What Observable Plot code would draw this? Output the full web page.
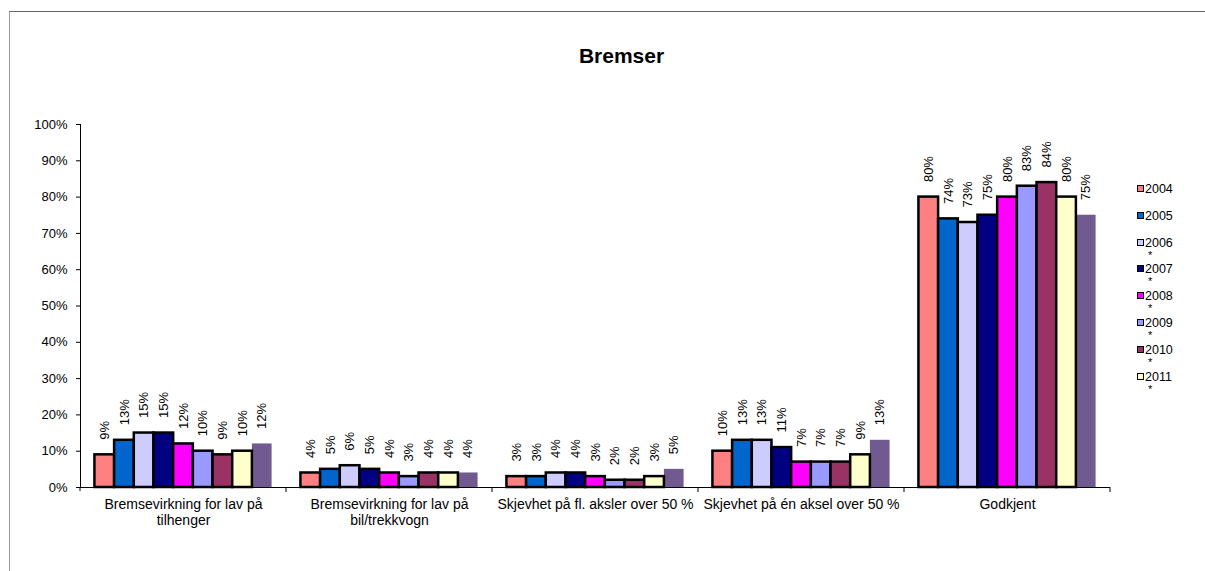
<!DOCTYPE html>
<html>
<head>
<meta charset="utf-8">
<script src="https://cdn.jsdelivr.net/npm/d3@7"></script>
<script src="https://cdn.jsdelivr.net/npm/@observablehq/plot@0.6"></script>
<style>
  html, body { margin: 0; padding: 0; background: #fff; }
  #chart { position: relative; width: 1205px; height: 571px; overflow: hidden; font-family: "Liberation Sans", Arial, sans-serif; }
  #frame { position: absolute; left: 9px; top: 11px; width: 1300px; height: 700px; border-top: 1px solid #666; border-left: 1px solid #999; }
  #title { position: absolute; left: 0; width: 1243px; top: 44px; text-align: center; font-weight: bold; font-size: 21px; color: #000; }
  #plot { position: absolute; left: 0; top: 0; }
  .legend-item { position: absolute; left: 1137px; font-size: 12.5px; color: #000; line-height: 14px; }
  .legend-swatch { display: inline-block; width: 5px; height: 5px; border: 1.5px solid #000; vertical-align: 1px; margin-right: 1px; }
  .legend-note { position: absolute; left: 11px; top: 12px; font-size: 11px; }
</style>
</head>
<body>
<div id="chart">
  <div id="frame"></div>
  <div id="title">Bremser</div>
  <div id="plot"></div>
</div>
<script>
// Categories along the x axis and how their labels wrap
const categories = [
  "Bremsevirkning for lav på tilhenger",
  "Bremsevirkning for lav på bil/trekkvogn",
  "Skjevhet på fl. aksler over 50 %",
  "Skjevhet på én aksel over 50 %",
  "Godkjent"
];
const categoryLabels = [
  "Bremsevirkning for lav på\ntilhenger",
  "Bremsevirkning for lav på\nbil/trekkvogn",
  "Skjevhet på fl. aksler over 50 %",
  "Skjevhet på én aksel over 50 %",
  "Godkjent"
];

// Series (one per year), values in percent per category
const years = ["2004", "2005", "2006", "2007", "2008", "2009", "2010", "2011", "2012"];
const v2004 = [9, 4, 3, 10, 80];
const v2005 = [13, 5, 3, 13, 74];
const v2006 = [15, 6, 4, 13, 73];
const v2007 = [15, 5, 4, 11, 75];
const v2008 = [12, 4, 3, 7, 80];
const v2009 = [10, 3, 2, 7, 83];
const v2010 = [9, 4, 2, 7, 84];
const v2011 = [10, 4, 3, 9, 80];
const v2012 = [12, 4, 5, 13, 75];
const seriesValues = [v2004, v2005, v2006, v2007, v2008, v2009, v2010, v2011, v2012];

const colors = ["#FF8080", "#0066CC", "#CCCCFF", "#000080", "#FF00FF", "#9999FF", "#993366", "#FFFFCC", "#705A90"];

// Legend entries (the last series has none)
const legendYears = ["2004", "2005", "2006", "2007", "2008", "2009", "2010", "2011"];
const legendNotes = ["", "", "*", "*", "*", "*", "*", "*"];

const yTicks = [0, 10, 20, 30, 40, 50, 60, 70, 80, 90, 100];

const table = [];
years.forEach((year, j) => {
  categories.forEach((category, i) => {
    table.push({category, year, value: seriesValues[j][i]});
  });
});
const outlined = table.filter(d => d.year !== "2012");
const plain = table.filter(d => d.year === "2012");

const plot = Plot.plot({
  width: 1205,
  height: 571,
  marginLeft: 80,
  marginRight: 95,
  marginTop: 124,
  marginBottom: 84,
  style: {fontFamily: "'Liberation Sans', Arial, sans-serif", fontSize: "13px", color: "#000", background: "transparent", overflow: "visible"},
  fx: {domain: categories, paddingInner: 0, paddingOuter: 0, round: false, label: null, axis: null},
  x: {domain: years, paddingInner: 0, paddingOuter: 0.7326, round: false, axis: null},
  y: {domain: [0, 100], ticks: yTicks, tickFormat: d => d + "%", label: null, tickSize: 4, tickPadding: 9, line: true},
  color: {domain: years, range: colors},
  marks: [
    Plot.axisFx({
      anchor: "bottom",
      tickSize: 0,
      tickPadding: 10,
      fontSize: 14,
      lineHeight: 1.15,
      label: null,
      tickFormat: c => categoryLabels[categories.indexOf(c)]
    }),
    Plot.ruleY([0], {stroke: "#000", strokeWidth: 1}),
    Plot.barY(plain, {fx: "category", x: "year", y: "value", fill: "year"}),
    Plot.barY(outlined, {fx: "category", x: "year", y: "value", fill: "year", stroke: "#000", strokeWidth: 2.5}),
    Plot.text(table, {
      fx: "category", x: "year", y: "value",
      text: d => d.value + "%",
      rotate: -90, textAnchor: "start", dy: -15,
      fontSize: 13, fill: "#000"
    })
  ]
});

// Category boundary ticks below the baseline, placed from the fx band scale
const fxScale = plot.scale("fx");
const yScale = plot.scale("y");
const y0 = yScale.apply(0);
const g = d3.select(plot).append("g").attr("stroke", "#000").attr("stroke-width", 1);
categories.forEach(c => {
  const xb = fxScale.apply(c) + fxScale.bandwidth;
  g.append("line").attr("x1", xb).attr("x2", xb).attr("y1", y0).attr("y2", y0 + 5);
});
g.append("line").attr("x1", fxScale.apply(categories[0])).attr("x2", fxScale.apply(categories[0])).attr("y1", y0).attr("y2", y0 + 4);

document.getElementById("plot").appendChild(plot);

// Legend
const chart = document.getElementById("chart");
legendYears.forEach((year, i) => {
  const item = document.createElement("div");
  item.className = "legend-item";
  item.style.top = (182 + i * 26.8) + "px";
  const sw = document.createElement("span");
  sw.className = "legend-swatch";
  sw.style.background = colors[years.indexOf(year)];
  item.appendChild(sw);
  item.appendChild(document.createTextNode(year));
  if (legendNotes[i]) {
    const note = document.createElement("div");
    note.className = "legend-note";
    note.textContent = legendNotes[i];
    item.appendChild(note);
  }
  chart.appendChild(item);
});
</script>
</body>
</html>
